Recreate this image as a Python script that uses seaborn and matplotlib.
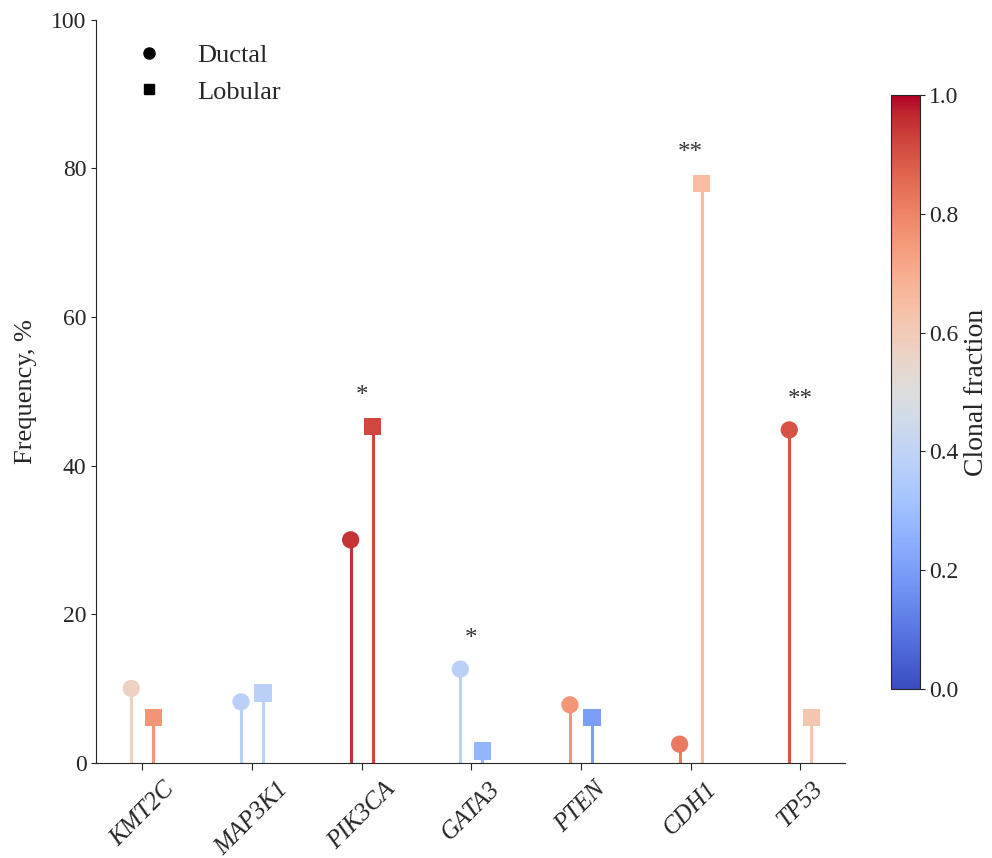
import numpy as np
import pandas as pd
import matplotlib
matplotlib.use("Agg")
import matplotlib.pyplot as plt
import seaborn as sns
from matplotlib.lines import Line2D

# data
genes = ['KMT2C', 'MAP3K1', 'PIK3CA', 'GATA3', 'PTEN', 'CDH1', 'TP53']
ductal_freq = [10.0, 8.2, 30.0, 12.6, 7.8, 2.5, 44.8]
lobular_freq = [6.1, 9.4, 45.3, 1.6, 6.1, 78.0, 6.1]
ductal_clonal = [0.57, 0.38, 0.95, 0.38, 0.76, 0.82, 0.90]
lobular_clonal = [0.76, 0.38, 0.92, 0.27, 0.20, 0.65, 0.62]
stars = ['', '', '*', '*', '', '**', '**']

sns.set_style("ticks")
plt.rcParams['font.family'] = ['Liberation Serif', 'DejaVu Serif']

rows = []
for i, g in enumerate(genes):
    rows.append({'gene': g, 'x': i - 0.1, 'freq': ductal_freq[i], 'clonal': ductal_clonal[i], 'type': 'Ductal'})
    rows.append({'gene': g, 'x': i + 0.1, 'freq': lobular_freq[i], 'clonal': lobular_clonal[i], 'type': 'Lobular'})
df = pd.DataFrame(rows)

cmap = plt.get_cmap('coolwarm')
norm = matplotlib.colors.Normalize(0, 1)

fig = plt.figure(figsize=(9.92, 8.58), dpi=100)
ax = fig.add_axes([0.097, 0.111, 0.755, 0.866])

# stems then heads
ax.vlines(df['x'], 0, df['freq'], colors=cmap(norm(df['clonal'])), linewidth=2.2, zorder=1)
sns.scatterplot(data=df, x='x', y='freq', hue='clonal', palette='coolwarm', hue_norm=(0, 1),
                style='type', markers={'Ductal': 'o', 'Lobular': 's'}, s=155,
                edgecolor='none', legend=False, ax=ax, zorder=2)

for i, st in enumerate(stars):
    if st:
        top = max(ductal_freq[i], lobular_freq[i])
        ax.text(i, top + 4, st, ha='center', va='center', fontsize=18, color='#333333')

ax.set_xlim(-0.42, 6.41)
ax.set_ylim(0, 100)
ax.set_xticks(range(len(genes)))
ax.set_xticklabels(genes, rotation=45, ha='center', style='italic', fontsize=18)
ax.tick_params(axis='x', length=5, pad=6)
ax.tick_params(axis='y', labelsize=17)
ax.set_xlabel('')
ax.set_ylabel('Frequency, %', fontsize=19, labelpad=10)
sns.despine(ax=ax)

handles = [Line2D([], [], marker='o', color='black', linestyle='none', markersize=8),
           Line2D([], [], marker='s', color='black', linestyle='none', markersize=7)]
ax.legend(handles, ['Ductal', 'Lobular'], loc='upper left', frameon=False, fontsize=19,
          bbox_to_anchor=(0.003, 1.0), handletextpad=0.85)

cax = fig.add_axes([0.898, 0.197, 0.029, 0.692])
sm = matplotlib.cm.ScalarMappable(norm=norm, cmap=cmap)
cb = fig.colorbar(sm, cax=cax)
cb.set_ticks(np.arange(0, 1.01, 0.2))
cb.ax.tick_params(labelsize=17)
cb.set_label('Clonal fraction', fontsize=20)

fig.savefig('out.png', dpi=100)
